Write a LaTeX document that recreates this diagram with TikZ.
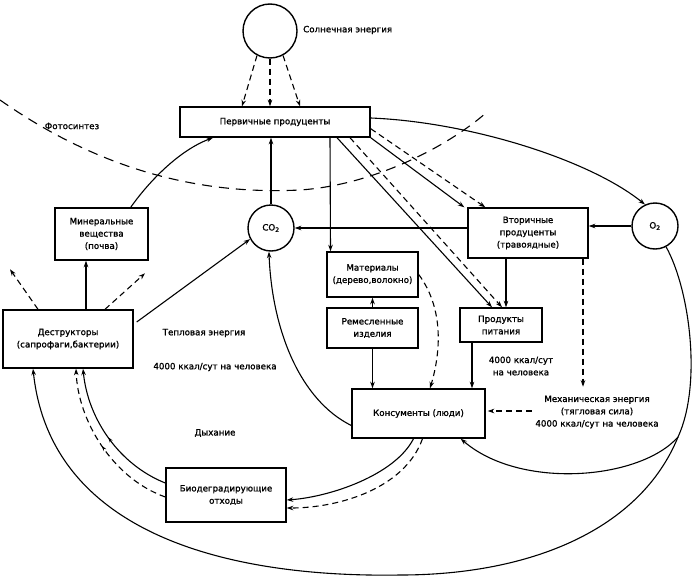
\documentclass[tikz,border=0pt]{standalone}
\usepackage{fontspec}
\setmainfont{DejaVu Sans}[BoldFont={DejaVu Sans},BoldFeatures={FakeBold=1.3}]
\usetikzlibrary{arrows.meta,calc,decorations.markings}
\begin{document}
\begin{tikzpicture}[x=1pt,y=-1pt,
  every node/.style={font=\fontsize{8.7}{12.3}\selectfont\bfseries},
  box/.style={draw,line width=1.4pt,align=center,inner sep=1pt},
  circ/.style={draw,circle,line width=1.4pt,inner sep=0pt},
  con/.style={line width=1.1pt,-{Stealth[length=6.5pt,width=4.5pt]}},
  dcon/.style={con,dash pattern=on 6pt off 4pt},
  lbl/.style={align=center,inner sep=0pt},
  midarrow/.style={postaction={decorate,decoration={markings,mark=at position 0.5 with {\arrow{Stealth[length=5pt,width=3.5pt]}}}}}]
\useasboundingbox (0,0) rectangle (700,578);
% nodes
\node[circ,minimum size=54pt] (sun) at (270,31) {};
\node[lbl,anchor=west] (sunl) at (303,30) {Солнечная энергия};
\node[box,minimum width=190pt,minimum height=30pt] (prim) at (275,122) {Первичные продуценты};
\node[box,minimum width=93pt,minimum height=52pt] (mineral) at (101.5,234) {Минеральные\\вещества\\(почва)};
\node[circ,minimum size=46pt] (co2) at (271,228) {CO\textsubscript{2}};
\node[box,minimum width=120pt,minimum height=50pt] (sec) at (528,233) {Вторичные\\продуценты\\(травоядные)};
\node[circ,minimum size=46pt] (o2) at (655,226) {O\textsubscript{2}};
\node[box,minimum width=91pt,minimum height=45pt] (mat) at (372.5,274.5) {Материалы\\(дерево,волокно)};
\node[box,minimum width=91pt,minimum height=40pt] (craft) at (372.5,328) {Ремесленные\\изделия};
\node[box,minimum width=82pt,minimum height=34pt] (food) at (501,325) {Продукты\\питания};
\node[box,minimum width=133pt,minimum height=49pt] (cons) at (418.5,413.5) {Консументы (люди)};
\node[box,minimum width=130pt,minimum height=58pt] (destr) at (68,339) {Деструкторы\\(сапрофаги,бактерии)};
\node[box,minimum width=120pt,minimum height=54pt] (waste) at (226,495) {Биодеградирующие\\отходы};
% labels
\node[lbl] (photo) at (72,126) {Фотосинтез};
\node[lbl] (heat) at (204,333) {Тепловая энергия};
\node[lbl] (kc1) at (215,367) {4000 ккал/сут на человека};
\node[lbl] (breath) at (215,433) {Дыхание};
\node[lbl] (kc2) at (521,366) {4000 ккал/сут\\на человека};
\node[lbl] (mech) at (597,412) {Механическая энергия\\(тягловая сила)\\4000 ккал/сут на человека};
% photosynthesis boundary
\draw[line width=1.1pt,dash pattern=on 10pt off 7pt] (0,100) .. controls (100,170) and (200,195) .. (300,190) .. controls (375,185) and (450,145) .. (487,112);
% sun -> primary
\draw[dcon] (sun.-118) -- ([xshift=-33pt]prim.north);
\draw[dcon] (sun.south) -- ([xshift=-5pt]prim.north);
\draw[dcon] (sun.-62) -- ([xshift=25pt]prim.north);
% into primary
\draw[con] ([xshift=-18pt]mineral.north east) .. controls (150,180) and (180,150) .. ([xshift=-62pt]prim.south);
\draw[con] (co2.north) -- (co2.north |- prim.south);
% CO2 / O2
\draw[con] (co2.east -| sec.west) -- (co2.east);
\draw[con] (o2.west) -- (o2.west -| sec.east);
\draw[con] ([yshift=4pt]prim.east) .. controls (470,122) and (590,160) .. (o2.115);
% primary -> materials
\draw[con] ([xshift=55pt]prim.south) -- ([xshift=-42pt]mat.north);
\draw[con] (craft.north) -- (mat.south);
\draw[con] (craft.south) -- (craft.south |- cons.north);
\draw[dcon] (mat.east) .. controls (445,310) and (440,355) .. ([xshift=11.5pt]cons.north);
% secondary, food
\draw[con] ([xshift=-22pt]sec.south) -- ([xshift=5pt]food.north);
\draw[con] ([xshift=-29pt]food.south) -- ([xshift=53.5pt]cons.north);
\draw[dcon] ([xshift=55pt]sec.south) -- ++(0,128);
\draw[dcon] ([shift={(46pt,2.5pt)}]cons.east) -- ([shift={(2pt,2.5pt)}]cons.east);
% primary -> secondary / food
\draw[con] (prim.south east) -- ([xshift=-3pt]sec.north west);
\draw[dcon] ([yshift=9pt]prim.south east) -- ([xshift=18pt]sec.north west);
\draw[con] ([xshift=62pt]prim.south) -- ([xshift=-9pt]food.north);
\draw[dcon] ([xshift=75pt]prim.south) -- ([xshift=1pt]food.north);
% destructors
\draw[con] ([xshift=18pt]destr.north) -- ([xshift=-15.5pt]mineral.south);
\draw[dcon] ([xshift=-30pt]destr.north) -- ++(-28,-40);
\draw[dcon] ([xshift=37pt]destr.north) -- ++(40,-36);
\draw[con] ([shift={(3pt,17pt)}]destr.east) -- (co2.-152);
% consumers
\draw[con] ([yshift=-12pt]cons.west) .. controls (300,400) and (272,330) .. (co2.-95);
\draw[con] ([xshift=-5pt]cons.south) .. controls (395,475) and (330,497) .. ([yshift=-5pt]waste.east);
\draw[dcon] ([xshift=4pt]cons.south) .. controls (405,488) and (340,508) .. ([yshift=-13pt]waste.east);
% waste -> destructors
\draw[con,midarrow] ([yshift=12pt]waste.west) .. controls (120,465) and (88,420) .. ([xshift=15pt]destr.south);
\draw[dcon,midarrow] ([yshift=-2pt]waste.west) .. controls (112,478) and (78,420) .. ([xshift=8pt]destr.south);
% O2 outer loop
\coordinate (j) at (678,437);
\draw[line width=1.1pt] (o2.-62) .. controls (690,290) and (702,385) .. (j);
\draw[con] (j) .. controls (640,480) and (520,490) .. ([xshift=-25pt]cons.south east);
\draw[con] (j) .. controls (640,530) and (530,575) .. (400,575) .. controls (220,578) and (50,530) .. ([xshift=-35pt]destr.south);
\end{tikzpicture}
\end{document}
